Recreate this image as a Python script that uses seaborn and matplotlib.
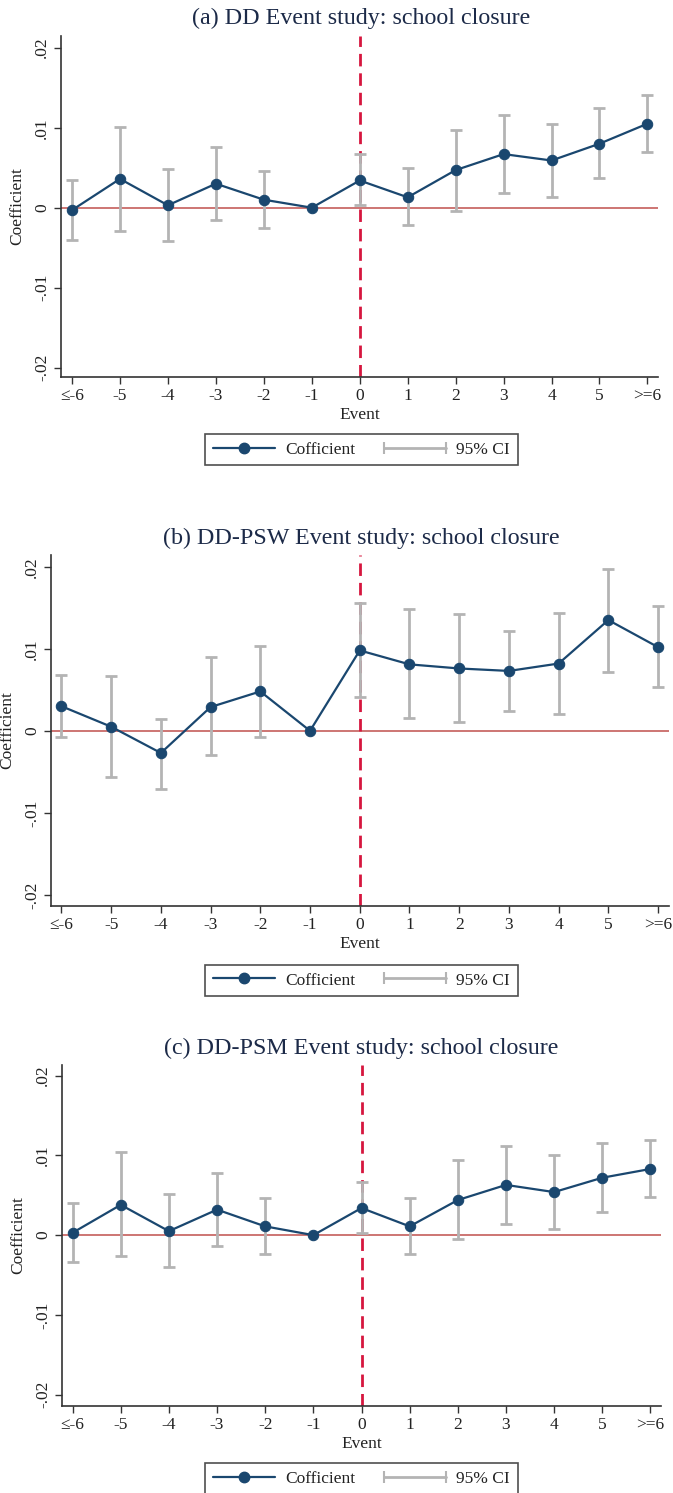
import numpy as np
import matplotlib
matplotlib.use("Agg")
import matplotlib.pyplot as plt
from matplotlib.lines import Line2D
from matplotlib.legend_handler import HandlerLine2D
import seaborn as sns

# ---------------- data ----------------
events = ["≤-6", "-5", "-4", "-3", "-2", "-1", "0", "1", "2", "3", "4", "5", ">=6"]
yticks = [-0.02, -0.01, 0.0, 0.01, 0.02]
ytick_labels = ["-.02", "-.01", "0", ".01", ".02"]
nan = np.nan

titles = ["(a) DD Event study: school closure",
          "(b) DD-PSW Event study: school closure",
          "(c) DD-PSM Event study: school closure"]

coef_a = [-0.0003, 0.0036, 0.0003, 0.0030, 0.0010, 0.0, 0.0034, 0.0013, 0.0047, 0.0067, 0.0059, 0.0080, 0.0105]
lo_a = [-0.0040, -0.0029, -0.0042, -0.0015, -0.0025, nan, 0.0003, -0.0022, -0.0004, 0.0018, 0.0013, 0.0037, 0.0070]
hi_a = [0.0034, 0.0101, 0.0048, 0.0076, 0.0046, nan, 0.0067, 0.0049, 0.0097, 0.0116, 0.0105, 0.0124, 0.0141]

coef_b = [0.0030, 0.0005, -0.0027, 0.0029, 0.0048, 0.0, 0.0098, 0.0081, 0.0076, 0.0073, 0.0082, 0.0135, 0.0102]
lo_b = [-0.0007, -0.0056, -0.0071, -0.0030, -0.0007, nan, 0.0041, 0.0016, 0.0011, 0.0024, 0.0021, 0.0072, 0.0053]
hi_b = [0.0068, 0.0067, 0.0014, 0.0090, 0.0103, nan, 0.0156, 0.0149, 0.0142, 0.0122, 0.0144, 0.0197, 0.0152]

coef_c = [0.0003, 0.0038, 0.0005, 0.0032, 0.0011, 0.0, 0.0034, 0.0011, 0.0044, 0.0063, 0.0054, 0.0072, 0.0083]
lo_c = [-0.0034, -0.0026, -0.0040, -0.0014, -0.0024, nan, 0.0003, -0.0024, -0.0005, 0.0014, 0.0008, 0.0029, 0.0048]
hi_c = [0.0040, 0.0104, 0.0051, 0.0078, 0.0046, nan, 0.0067, 0.0047, 0.0094, 0.0112, 0.0100, 0.0115, 0.0119]

panels = [(coef_a, lo_a, hi_a), (coef_b, lo_b, hi_b), (coef_c, lo_c, hi_c)]

# ---------------- style ----------------
sns.set_theme(style="white")
plt.rcParams["font.family"] = ["Liberation Serif", "DejaVu Serif"]
plt.rcParams["axes.unicode_minus"] = False

NAVY = "#1a476f"
GRAY = "#b4b4b4"
ZERO_RED = "#c0504d"
VRED = "#d6163e"
TXT = "#222222"

W, H = 673, 1493
fig = plt.figure(figsize=(W / 100, H / 100), dpi=100)

# layout in pixels: left, right, top, bottom, title_y, ylim, legend center y
layouts = [
    dict(l=61, r=658, t=36, b=377, ty=18, ylim=(-0.02116, 0.02146), leg=449.5, lx=(-0.23, 12.22)),
    dict(l=51, r=669, t=555, b=906, ty=538, ylim=(-0.02135, 0.02143), leg=980.5, lx=(-0.21, 12.22)),
    dict(l=62, r=661, t=1065, b=1406, ty=1048, ylim=(-0.02143, 0.02134), leg=1478.5, lx=(-0.22, 12.22)),
]

for (coef, lo, hi), title, L in zip(panels, titles, layouts):
    ax = fig.add_axes([L["l"] / W, 1 - L["b"] / H, (L["r"] - L["l"]) / W, (L["b"] - L["t"]) / H])
    x = np.arange(len(events))
    coef = np.asarray(coef, float)
    lo = np.asarray(lo, float)
    hi = np.asarray(hi, float)
    m = ~np.isnan(lo)

    # zero line and event line
    ax.axhline(0, color=ZERO_RED, lw=1.1, zorder=1)
    ax.axvline(6, color=VRED, lw=2.0, dashes=(4.5, 2.5), zorder=2)

    # confidence intervals
    ax.errorbar(x[m], (lo[m] + hi[m]) / 2, yerr=(hi[m] - lo[m]) / 2, fmt="none",
                ecolor=GRAY, elinewidth=2.0, capsize=4.5, capthick=2.0, zorder=3)

    # coefficients
    sns.lineplot(x=x, y=coef, ax=ax, color=NAVY, lw=1.6, marker="o", markersize=7.5,
                 markeredgecolor=NAVY, markerfacecolor=NAVY, zorder=4, legend=False)

    ax.set_xlim(*L["lx"])
    ax.set_ylim(*L["ylim"])
    ax.set_xticks(x)
    ax.set_xticklabels(events, fontsize=12.5, color=TXT)
    ax.set_yticks(yticks)
    ax.set_yticklabels(ytick_labels, fontsize=12.5, color=TXT, rotation=90, va="center")
    ax.tick_params(axis="both", direction="out", length=5, width=1, color="#333333",
                   bottom=True, left=True)
    ax.tick_params(axis="x", pad=3)
    ax.tick_params(axis="y", pad=3)
    for s in ["top", "right"]:
        ax.spines[s].set_visible(False)
    for s in ["left", "bottom"]:
        ax.spines[s].set_color("#333333")
        ax.spines[s].set_linewidth(1.2)
    ax.set_xlabel("Event", fontsize=12.5, color=TXT, labelpad=2)
    ax.set_ylabel("Coefficient", fontsize=12.5, color=TXT, labelpad=6)
    ax.grid(False)

    fig.text(0.5 * (61 + 662) / W, 1 - L["ty"] / H, title, ha="center", va="center",
             fontsize=17.3, color="#1c2a48")

    h1 = Line2D([], [], color=NAVY, lw=1.6, marker="o", markersize=7.5)
    h2 = Line2D([], [], color=GRAY, lw=2.0, marker="|", markersize=9, markeredgewidth=1.5)
    leg = ax.legend([h1, h2], ["Cofficient", "95% CI"], loc="center",
                    bbox_to_anchor=(361.5 / W, 1 - L["leg"] / H), bbox_transform=fig.transFigure,
                    ncol=2, frameon=True, fancybox=False, fontsize=12.5, handlelength=3.6,
                    handletextpad=0.6, columnspacing=1.6, borderpad=0.45,
                    handler_map={h1: HandlerLine2D(numpoints=1), h2: HandlerLine2D(numpoints=2, marker_pad=0)})
    leg.get_frame().set_edgecolor("#222222")
    leg.get_frame().set_linewidth(1.2)
    for t in leg.get_texts():
        t.set_color(TXT)

fig.savefig("out.png", dpi=100)
